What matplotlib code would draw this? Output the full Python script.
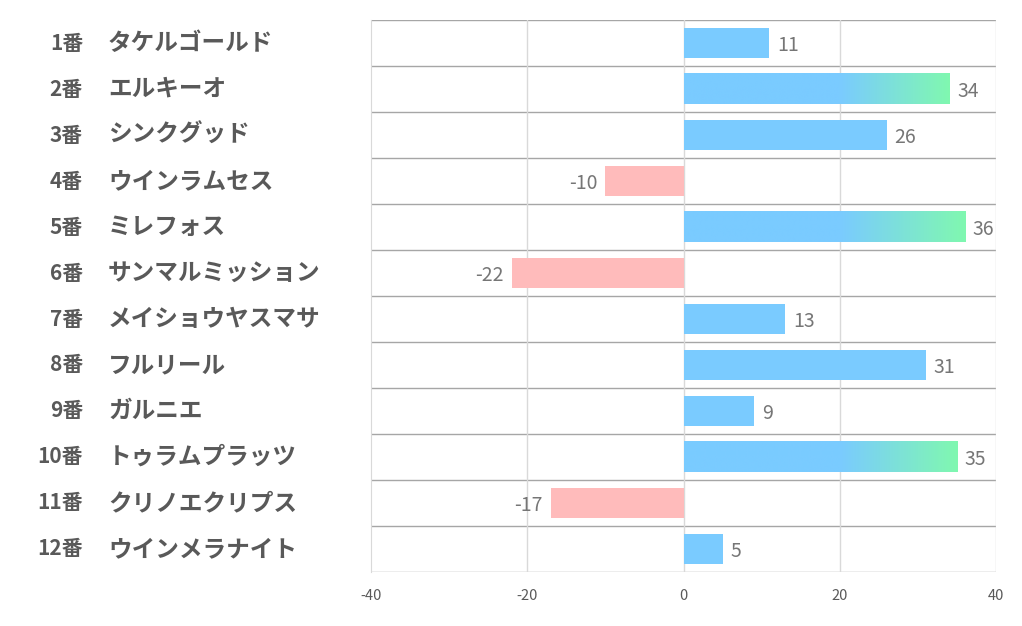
import matplotlib.pyplot as plt
import numpy as np
from matplotlib.colors import to_rgb

plt.rcParams['font.family'] = ['Noto Sans CJK JP', 'DejaVu Sans']

numbers = ['1番', '2番', '3番', '4番', '5番', '6番', '7番', '8番', '9番', '10番', '11番', '12番']
names = ['タケルゴールド', 'エルキーオ', 'シンクグッド', 'ウインラムセス', 'ミレフォス',
         'サンマルミッション', 'メイショウヤスマサ', 'フルリール', 'ガルニエ',
         'トゥラムプラッツ', 'クリノエクリプス', 'ウインメラナイト']
values = [11, 34, 26, -10, 36, -22, 13, 31, 9, 35, -17, 5]
highlight = [False, True, False, False, True, False, False, False, False, True, False, False]

blue = '#7ACBFF'
green = '#80F8B0'
pink = '#FFBBBB'
bar_h = 0.67

fig = plt.figure(figsize=(10.22, 6.26), dpi=100)
ax = fig.add_axes([0.363, 0.0863, 0.6116, 0.8817])

n = len(values)
ypos = np.arange(n)
ax.set_xlim(-40, 40)
ax.set_ylim(n - 0.5, -0.5)

for y, v, hl in zip(ypos, values, highlight):
    color = pink if v < 0 else blue
    if hl:
        xs = np.linspace(0, v, 300)
        t = np.clip((xs - 20) / (v - 20), 0, 1)
        c0, c1 = np.array(to_rgb(blue)), np.array(to_rgb(green))
        img = c0[None, :] * (1 - t[:, None]) + c1[None, :] * t[:, None]
        ax.imshow(img[None, :, :], extent=[0, v, y + bar_h / 2, y - bar_h / 2],
                  aspect='auto', zorder=2, interpolation='bilinear')
    else:
        ax.barh(y, v, height=bar_h, color=color, zorder=2)
    if v >= 0:
        ax.text(v + 1.0, y + 0.05, str(v), ha='left', va='center', fontsize=14, color='#767676')
    else:
        ax.text(v - 1.0, y + 0.05, str(v), ha='right', va='center', fontsize=14, color='#767676')

# row separators
for b in np.arange(-0.5, n, 1):
    ax.axhline(b, color='#A6A6A6', lw=1, zorder=1)
for gx in [-20, 0, 20, 40]:
    ax.axvline(gx, color='#D9D9D9', lw=1, zorder=1)

ax.set_xticks([-40, -20, 0, 20, 40])
ax.set_xticklabels(['-40', '-20', '0', '20', '40'], color='#595959', fontsize=10.5)
ax.tick_params(axis='x', length=0, pad=12)
ax.set_yticks([])
for s in ['top', 'right', 'bottom']:
    ax.spines[s].set_visible(False)
ax.spines['left'].set_color('#D9D9D9')

for y, num, nm in zip(ypos, numbers, names):
    yf = ax.transData.transform((0, y))[1]
    yfig = fig.transFigure.inverted().transform((0, yf))[1]
    fig.text(83 / 1022, yfig, num, ha='right', va='center', fontsize=15,
             fontweight='bold', color='#595959')
    fig.text(108 / 1022, yfig, nm, ha='left', va='center', fontsize=17,
             fontweight='bold', color='#595959')

fig.savefig('out.png', dpi=100)
